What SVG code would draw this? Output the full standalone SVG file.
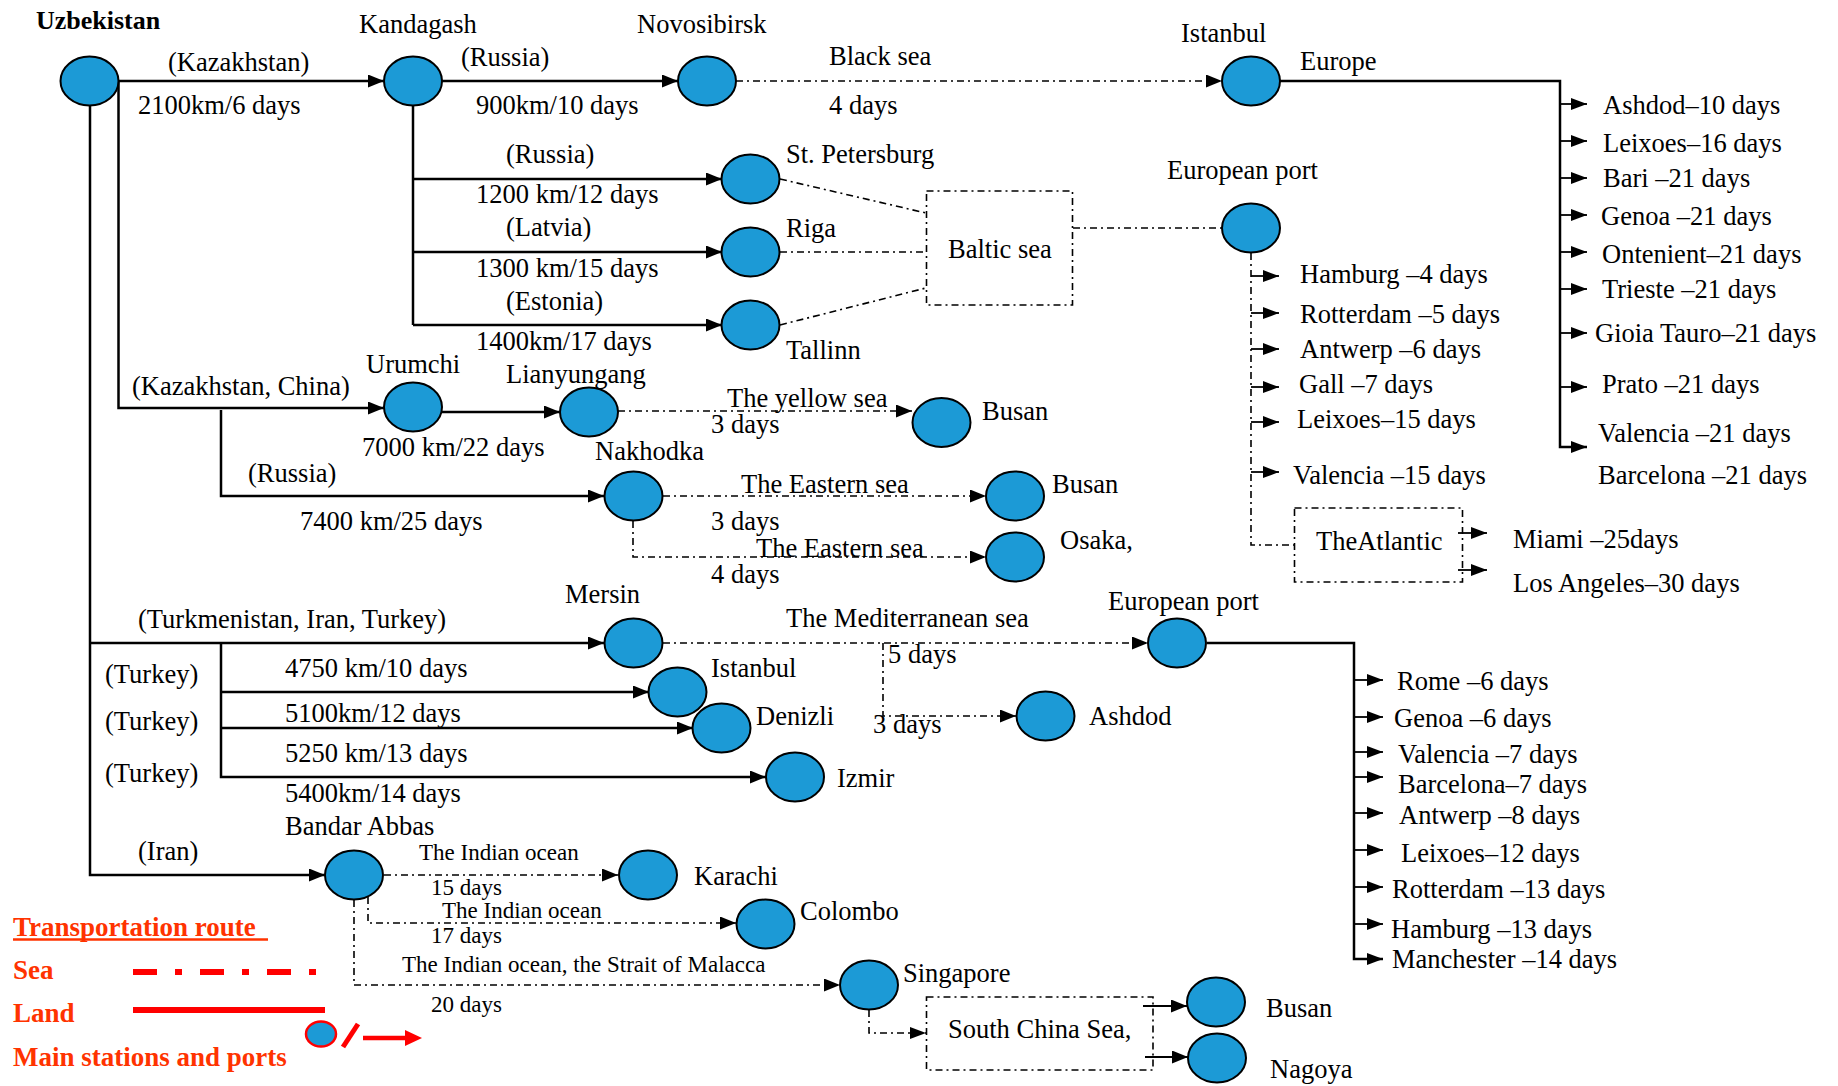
<svg xmlns="http://www.w3.org/2000/svg" width="1838" height="1086" viewBox="0 0 1838 1086">
<style>
text{font-family:"Liberation Serif","Times New Roman",serif;font-size:26.5px;fill:#000}
.s{font-size:23px}
.b{font-weight:bold;font-size:26px}
.r{fill:#FF3300;font-weight:bold;font-size:27px}
.node{fill:#1C9AD6;stroke:#000;stroke-width:2}
.land{stroke:#000;stroke-width:2.5;fill:none}
.thin{stroke:#000;stroke-width:1.8;fill:none}
.sea{stroke:#000;stroke-width:1.6;fill:none;stroke-dasharray:7 4 2 4}
</style>
<defs>
<marker id="ah" markerUnits="userSpaceOnUse" markerWidth="16" markerHeight="13" refX="16" refY="6.5" orient="auto"><path d="M0,0 L16,6.5 L0,13 z" fill="#000"/></marker>
<marker id="as" markerUnits="userSpaceOnUse" markerWidth="16" markerHeight="12" refX="16" refY="6" orient="auto"><path d="M0,0 L16,6 L0,12 z" fill="#000"/></marker>
</defs>
<rect width="1838" height="1086" fill="#fff"/>

<g id="connectors">
<path class="land" d="M119 81 H384" marker-end="url(#ah)"/>
<path class="land" d="M442 81 H678" marker-end="url(#ah)"/>
<path class="land" d="M413 106 V325"/>
<path class="land" d="M413 179 H722" marker-end="url(#ah)"/>
<path class="land" d="M413 252 H722" marker-end="url(#ah)"/>
<path class="land" d="M413 325 H722" marker-end="url(#ah)"/>
<path class="land" d="M118.5 81 V408 H384" marker-end="url(#ah)"/>
<path class="land" d="M442 412 H560" marker-end="url(#ah)"/>
<path class="land" d="M221 410 V496 H604" marker-end="url(#ah)"/>
<path class="land" d="M90 106 V875 H325" marker-end="url(#ah)"/>
<path class="land" d="M90 643 H604" marker-end="url(#ah)"/>
<path class="land" d="M221 643 V777 H766" marker-end="url(#ah)"/>
<path class="land" d="M221 692 H649" marker-end="url(#ah)"/>
<path class="land" d="M221 728 H693" marker-end="url(#ah)"/>
<path class="land" d="M1280 81 H1560 V447 H1587" marker-end="url(#as)"/>
<path class="thin" d="M1560 104 H1587" marker-end="url(#as)"/>
<path class="thin" d="M1560 141 H1587" marker-end="url(#as)"/>
<path class="thin" d="M1560 178 H1587" marker-end="url(#as)"/>
<path class="thin" d="M1560 215 H1587" marker-end="url(#as)"/>
<path class="thin" d="M1560 252 H1587" marker-end="url(#as)"/>
<path class="thin" d="M1560 289 H1587" marker-end="url(#as)"/>
<path class="thin" d="M1560 333 H1587" marker-end="url(#as)"/>
<path class="thin" d="M1560 387 H1587" marker-end="url(#as)"/>
<path class="land" d="M1207 643 H1354 V959 H1383" marker-end="url(#as)"/>
<path class="thin" d="M1354 680 H1383" marker-end="url(#as)"/>
<path class="thin" d="M1354 717 H1383" marker-end="url(#as)"/>
<path class="thin" d="M1354 752 H1383" marker-end="url(#as)"/>
<path class="thin" d="M1354 777 H1383" marker-end="url(#as)"/>
<path class="thin" d="M1354 813 H1383" marker-end="url(#as)"/>
<path class="thin" d="M1354 850 H1383" marker-end="url(#as)"/>
<path class="thin" d="M1354 887 H1383" marker-end="url(#as)"/>
<path class="thin" d="M1354 924 H1383" marker-end="url(#as)"/>
<path class="sea" d="M736 81 H1222" marker-end="url(#ah)"/>
<path class="sea" d="M780 179 L926 213"/>
<path class="sea" d="M780 252 H926"/>
<path class="sea" d="M780 325 L926 288"/>
<rect class="sea" x="926.5" y="191" width="146" height="114"/>
<path class="sea" d="M1073 228 H1222"/>
<path class="sea" d="M1251 253 V545 H1294"/>
<path class="thin" d="M1251 276 H1279" marker-end="url(#as)"/>
<path class="thin" d="M1251 313 H1279" marker-end="url(#as)"/>
<path class="thin" d="M1251 349 H1279" marker-end="url(#as)"/>
<path class="thin" d="M1251 387 H1279" marker-end="url(#as)"/>
<path class="thin" d="M1251 422 H1279" marker-end="url(#as)"/>
<path class="thin" d="M1251 472 H1279" marker-end="url(#as)"/>
<rect class="sea" x="1294.5" y="508" width="168" height="74"/>
<path class="thin" d="M1458 533 H1487" marker-end="url(#as)"/>
<path class="thin" d="M1458 570 H1487" marker-end="url(#as)"/>
<path class="sea" d="M618 411 H912" marker-end="url(#ah)"/>
<path class="sea" d="M663 496 H986" marker-end="url(#ah)"/>
<path class="sea" d="M633 521 V557 H986" marker-end="url(#ah)"/>
<path class="sea" d="M663 643 H1148" marker-end="url(#ah)"/>
<path class="sea" d="M883 643 V716 H1016" marker-end="url(#ah)"/>
<path class="sea" d="M384 875 H618" marker-end="url(#ah)"/>
<path class="sea" d="M368 897 V923 H736" marker-end="url(#ah)"/>
<path class="sea" d="M354 900 V985 H840" marker-end="url(#ah)"/>
<path class="sea" d="M869 1010 V1033 H926" marker-end="url(#as)"/>
<rect class="sea" x="926.5" y="997" width="226.5" height="73"/>
<path class="thin" d="M1143 1006 H1187" marker-end="url(#ah)"/>
<path class="thin" d="M1145 1057 H1188" marker-end="url(#ah)"/>
</g>

<g id="route-labels">
<text x="168" y="71">(Kazakhstan)</text>
<text x="138" y="114">2100km/6 days</text>
<text x="461" y="66">(Russia)</text>
<text x="476" y="114">900km/10 days</text>
<text x="829" y="65">Black sea</text>
<text x="829" y="114">4 days</text>
<text x="1300" y="70">Europe</text>
<text x="506" y="163">(Russia)</text>
<text x="476" y="203">1200 km/12 days</text>
<text x="506" y="236">(Latvia)</text>
<text x="476" y="277">1300 km/15 days</text>
<text x="506" y="310">(Estonia)</text>
<text x="476" y="350">1400km/17 days</text>
<text x="132" y="395">(Kazakhstan, China)</text>
<text x="362" y="456">7000 km/22 days</text>
<text x="248" y="482">(Russia)</text>
<text x="300" y="530">7400 km/25 days</text>
<text x="727" y="407">The yellow sea</text>
<text x="711" y="433">3 days</text>
<text x="741" y="493">The Eastern sea</text>
<text x="711" y="530">3 days</text>
<text x="756" y="557">The Eastern sea</text>
<text x="711" y="583">4 days</text>
<text x="138" y="628">(Turkmenistan, Iran, Turkey)</text>
<text x="786" y="627">The Mediterranean sea</text>
<text x="888" y="663">5 days</text>
<text x="873" y="733">3 days</text>
<text x="105" y="683">(Turkey)</text>
<text x="105" y="730">(Turkey)</text>
<text x="105" y="782">(Turkey)</text>
<text x="285" y="677">4750 km/10 days</text>
<text x="285" y="722">5100km/12 days</text>
<text x="285" y="762">5250 km/13 days</text>
<text x="285" y="802">5400km/14 days</text>
<text x="138" y="860">(Iran)</text>
<text class="s" x="419" y="860">The Indian ocean</text>
<text class="s" x="431" y="895">15 days</text>
<text class="s" x="442" y="918">The Indian ocean</text>
<text class="s" x="431" y="943">17 days</text>
<text class="s" x="402" y="972">The Indian ocean, the Strait of Malacca</text>
<text class="s" x="431" y="1012">20 days</text>
<text x="948" y="258">Baltic sea</text>
<text x="1316" y="550">TheAtlantic</text>
<text x="948" y="1038">South China Sea,</text>
</g>

<g id="destinations">
<text x="1603" y="114">Ashdod–10 days</text>
<text x="1603" y="152">Leixoes–16 days</text>
<text x="1603" y="187">Bari –21 days</text>
<text x="1601" y="225">Genoa –21 days</text>
<text x="1602" y="263">Ontenient–21 days</text>
<text x="1602" y="298">Trieste –21 days</text>
<text x="1595" y="342">Gioia Tauro–21 days</text>
<text x="1602" y="393">Prato –21 days</text>
<text x="1598" y="442">Valencia –21 days</text>
<text x="1598" y="484">Barcelona –21 days</text>
<text x="1300" y="283">Hamburg –4 days</text>
<text x="1300" y="323">Rotterdam –5 days</text>
<text x="1300" y="358">Antwerp –6 days</text>
<text x="1299" y="393">Gall –7 days</text>
<text x="1297" y="428">Leixoes–15 days</text>
<text x="1293" y="484">Valencia –15 days</text>
<text x="1513" y="548">Miami –25days</text>
<text x="1513" y="592">Los Angeles–30 days</text>
<text x="1397" y="690">Rome –6 days</text>
<text x="1394" y="727">Genoa –6 days</text>
<text x="1398" y="763">Valencia –7 days</text>
<text x="1398" y="793">Barcelona–7 days</text>
<text x="1399" y="824">Antwerp –8 days</text>
<text x="1401" y="862">Leixoes–12 days</text>
<text x="1392" y="898">Rotterdam –13 days</text>
<text x="1391" y="938">Hamburg –13 days</text>
<text x="1392" y="968">Manchester –14 days</text>
</g>

<g id="n-uzbekistan"><ellipse class="node" cx="89.5" cy="81" rx="29" ry="24.5"/><text class="b" x="36" y="29">Uzbekistan</text></g>
<g id="n-kandagash"><ellipse class="node" cx="413" cy="81" rx="29" ry="24.5"/><text x="359" y="33">Kandagash</text></g>
<g id="n-novosibirsk"><ellipse class="node" cx="707" cy="81" rx="29" ry="24.5"/><text x="637" y="33">Novosibirsk</text></g>
<g id="n-istanbul-top"><ellipse class="node" cx="1251" cy="81" rx="29" ry="24.5"/><text x="1181" y="42">Istanbul</text></g>
<g id="n-stpetersburg"><ellipse class="node" cx="750.5" cy="179" rx="29" ry="24.5"/><text x="786" y="163">St. Petersburg</text></g>
<g id="n-riga"><ellipse class="node" cx="750.5" cy="252" rx="29" ry="24.5"/><text x="786" y="237">Riga</text></g>
<g id="n-tallinn"><ellipse class="node" cx="750.5" cy="325" rx="29" ry="24.5"/><text x="786" y="359">Tallinn</text></g>
<g id="n-european-port-1"><ellipse class="node" cx="1251" cy="228" rx="29" ry="24.5"/><text x="1167" y="179">European port</text></g>
<g id="n-urumchi"><ellipse class="node" cx="413" cy="407" rx="29" ry="24.5"/><text x="366" y="373">Urumchi</text></g>
<g id="n-lianyungang"><ellipse class="node" cx="589" cy="412" rx="29" ry="24.5"/><text x="506" y="383">Lianyungang</text></g>
<g id="n-busan-1"><ellipse class="node" cx="941.5" cy="422.5" rx="29" ry="24.5"/><text x="982" y="420">Busan</text></g>
<g id="n-nakhodka"><ellipse class="node" cx="633.5" cy="496" rx="29" ry="24.5"/><text x="595" y="460">Nakhodka</text></g>
<g id="n-busan-2"><ellipse class="node" cx="1015" cy="496" rx="29" ry="24.5"/><text x="1052" y="493">Busan</text></g>
<g id="n-osaka"><ellipse class="node" cx="1015" cy="557" rx="29" ry="24.5"/><text x="1060" y="549">Osaka,</text></g>
<g id="n-mersin"><ellipse class="node" cx="633.5" cy="643" rx="29" ry="24.5"/><text x="565" y="603">Mersin</text></g>
<g id="n-european-port-2"><ellipse class="node" cx="1177" cy="643" rx="29" ry="24.5"/><text x="1108" y="610">European port</text></g>
<g id="n-istanbul"><ellipse class="node" cx="677.5" cy="692" rx="29" ry="24.5"/><text x="711" y="677">Istanbul</text></g>
<g id="n-denizli"><ellipse class="node" cx="721.5" cy="728" rx="29" ry="24.5"/><text x="756" y="725">Denizli</text></g>
<g id="n-ashdod"><ellipse class="node" cx="1045.5" cy="716" rx="29" ry="24.5"/><text x="1089" y="725">Ashdod</text></g>
<g id="n-izmir"><ellipse class="node" cx="795" cy="777" rx="29" ry="24.5"/><text x="837" y="787">Izmir</text></g>
<g id="n-bandar-abbas"><ellipse class="node" cx="354" cy="875" rx="29" ry="24.5"/><text x="285" y="835">Bandar Abbas</text></g>
<g id="n-karachi"><ellipse class="node" cx="648" cy="875" rx="29" ry="24.5"/><text x="694" y="885">Karachi</text></g>
<g id="n-colombo"><ellipse class="node" cx="765.5" cy="924" rx="29" ry="24.5"/><text x="800" y="920">Colombo</text></g>
<g id="n-singapore"><ellipse class="node" cx="869" cy="985" rx="29" ry="24.5"/><text x="903" y="982">Singapore</text></g>
<g id="n-busan-3"><ellipse class="node" cx="1216" cy="1002" rx="29" ry="24.5"/><text x="1266" y="1017">Busan</text></g>
<g id="n-nagoya"><ellipse class="node" cx="1217" cy="1058" rx="29" ry="24.5"/><text x="1270" y="1078">Nagoya</text></g>

<g id="legend">
<text class="r" x="13" y="936">Transportation route</text>
<line x1="13" y1="939.5" x2="268" y2="939.5" stroke="#FF3300" stroke-width="2.5"/>
<text class="r" x="13" y="979">Sea</text>
<line x1="133" y1="972" x2="316" y2="972" stroke="#FF0000" stroke-width="6" stroke-dasharray="24 18 7 18"/>
<text class="r" x="13" y="1022">Land</text>
<line x1="133" y1="1010" x2="325" y2="1010" stroke="#FF0000" stroke-width="6"/>
<text class="r" x="13" y="1066">Main stations and ports</text>
<ellipse cx="321" cy="1034" rx="15" ry="12.5" fill="#1C9AD6" stroke="#FF0000" stroke-width="2.5"/>
<line x1="358" y1="1024" x2="343" y2="1047" stroke="#FF0000" stroke-width="5"/>
<line x1="363" y1="1038" x2="407" y2="1038" stroke="#FF0000" stroke-width="4.5"/>
<polygon points="405,1030 422,1038 405,1046" fill="#FF0000"/>
</g>
</svg>
